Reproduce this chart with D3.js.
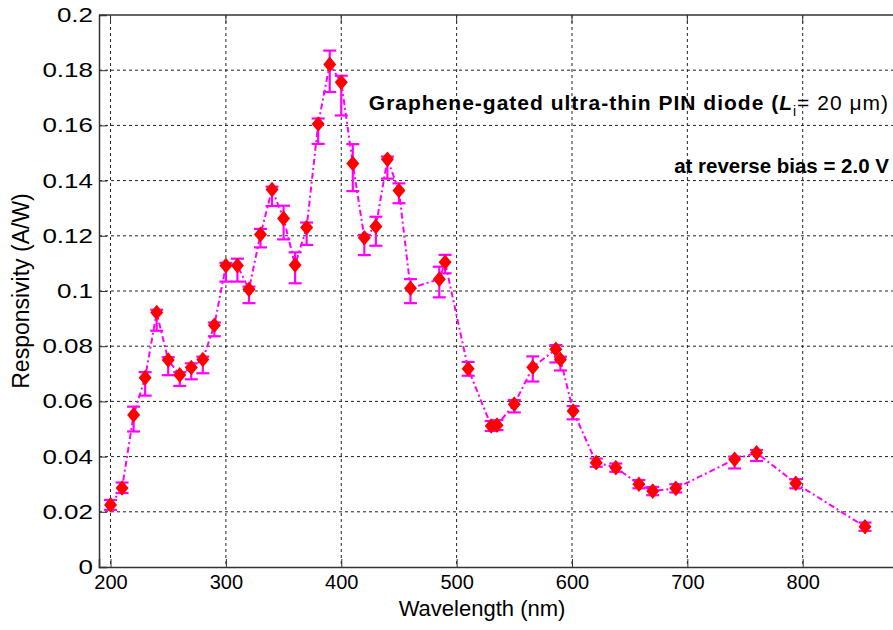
<!DOCTYPE html>
<html>
<head>
<meta charset="utf-8">
<script src="https://cdn.jsdelivr.net/npm/d3@7"></script>
<style>
  body { margin: 0; background: #fff; }
  svg { display: block; font-family: Arial, "Liberation Sans", sans-serif; }
  .grid line { stroke: #222; stroke-width: 1; stroke-dasharray: 3,3; }
  .axis text { fill: #000; }
  .x-axis text { font-size: 20px; }
  .y-axis text { font-size: 20px; }
  .note { font-size: 20.5px; font-weight: bold; fill: #000; }
</style>
</head>
<body>
<div class="chart"></div>
<script>
// DATA ------------------------------------

const wavelength = [200, 210, 220, 230, 240, 250, 260, 270, 280, 290,
  300, 310, 320, 330, 340, 350, 360, 370, 380, 390,
  400, 410, 420, 430, 440, 450, 460, 485, 490, 510,
  530, 535, 550, 566, 586, 590, 601, 621, 638, 658,
  670, 690, 741, 760, 794, 854];

const responsivity = [0.0225, 0.0286, 0.0551, 0.0686, 0.0922, 0.0750, 0.0696, 0.0723, 0.0752, 0.0876,
  0.1092, 0.1092, 0.1006, 0.1205, 0.1368, 0.1263, 0.1094, 0.1230, 0.1605, 0.1821,
  0.1756, 0.1462, 0.1193, 0.1234, 0.1477, 0.1364, 0.1010, 0.1043, 0.1104, 0.0718,
  0.0511, 0.0514, 0.0590, 0.0724, 0.0789, 0.0752, 0.0565, 0.0378, 0.0360, 0.0300,
  0.0275, 0.0285, 0.0390, 0.0414, 0.0303, 0.0146];

// error below / above each point (A/W)
const errLow = [0.0018, 0.0018, 0.0060, 0.0065, 0.0066, 0.0055, 0.0040, 0.0043, 0.0050, 0.0040,
  0.0058, 0.0058, 0.0050, 0.0047, 0.0060, 0.0076, 0.0066, 0.0063, 0.0072, 0.0100,
  0.0120, 0.0100, 0.0063, 0.0070, 0.0070, 0.0046, 0.0054, 0.0066, 0.0040, 0.0025,
  0.0018, 0.0018, 0.0030, 0.0052, 0.0048, 0.0040, 0.0030, 0.0015, 0.0015, 0.0015,
  0.0015, 0.0015, 0.0033, 0.0030, 0.0018, 0.0015];

const errHigh = [0.0018, 0.0020, 0.0030, 0.0020, 0.0010, 0.0010, 0.0010, 0.0015, 0.0010, 0.0010,
  0.0010, 0.0025, 0.0010, 0.0020, 0.0010, 0.0046, 0.0046, 0.0018, 0.0020, 0.0050,
  0.0024, 0.0070, 0.0010, 0.0035, 0.0010, 0.0026, 0.0033, 0.0045, 0.0027, 0.0025,
  0.0018, 0.0018, 0.0015, 0.0039, 0.0015, 0.0010, 0.0018, 0.0015, 0.0015, 0.0015,
  0.0015, 0.0015, 0.0010, 0.0010, 0.0015, 0.0015];

const xTicks = [200, 300, 400, 500, 600, 700, 800];
const yTicks = [0, 0.02, 0.04, 0.06, 0.08, 0.1, 0.12, 0.14, 0.16, 0.18, 0.2];

const data = wavelength.map((w, i) => ({
  w: w, r: responsivity[i], lo: errLow[i], hi: errHigh[i]
}));

// CHART INIT ------------------------------

const margin = { top: 15, left: 99, right: -2, bottom: 63 };
const totalWidth = 893;
const totalHeight = 630;
const width = totalWidth - margin.left - margin.right,
  height = totalHeight - margin.top - margin.bottom;

const svg = d3
  .select(".chart")
  .append("svg")
  .attr("width", totalWidth)
  .attr("height", totalHeight)
  .append("g")
  .attr("transform", "translate(" + margin.left + "," + margin.top + ")");

const xScale = d3.scaleLinear().domain([190, 880]).range([0, width]);
const yScale = d3.scaleLinear().domain([0, 0.2]).range([height, 0]);

// grid

svg.append("g").attr("class", "grid")
  .selectAll("line.v")
  .data(xTicks)
  .join("line")
  .attr("x1", (d) => xScale(d)).attr("x2", (d) => xScale(d))
  .attr("y1", 0).attr("y2", height);

svg.append("g").attr("class", "grid")
  .selectAll("line.h")
  .data(yTicks.filter((d) => d > 0 && d < 0.2))
  .join("line")
  .attr("x1", 0).attr("x2", width)
  .attr("y1", (d) => yScale(d)).attr("y2", (d) => yScale(d));

// axes

const xAxis = d3.axisBottom(xScale).tickValues(xTicks).tickSize(-8).tickPadding(15)
  .tickFormat(d3.format("d"));
const yAxis = d3.axisLeft(yScale).tickValues(yTicks).tickSize(-8).tickPadding(6)
  .tickFormat((d) => (d === 0 ? "0" : d3.format(".2~f")(d)));

svg.append("g").attr("class", "axis x-axis")
  .attr("transform", `translate(0, ${height})`)
  .call(xAxis);

svg.append("g").attr("class", "axis y-axis").call(yAxis);

svg.selectAll(".axis path").attr("stroke", "#333").attr("stroke-width", 1.5);
svg.selectAll(".axis line").attr("stroke", "#333");
svg.selectAll(".x-axis text").attr("dy", "0.35em");
// y labels look wider in the original
svg.selectAll(".y-axis .tick text")
  .attr("x", -6 / 1.3)
  .attr("transform", "scale(1.3,1)");

// top border with ticks
svg.append("line")
  .attr("x1", 0).attr("x2", width).attr("y1", 0).attr("y2", 0)
  .attr("stroke", "#333").attr("stroke-width", 1.5);
svg.append("g").selectAll("line")
  .data(xTicks)
  .join("line")
  .attr("x1", (d) => xScale(d)).attr("x2", (d) => xScale(d))
  .attr("y1", 0).attr("y2", 8)
  .attr("stroke", "#333");

// axis titles

svg.append("text")
  .attr("x", 383).attr("y", height + 49)
  .attr("text-anchor", "middle")
  .style("font-size", "22px")
  .text("Wavelength (nm)");

svg.append("text")
  .attr("transform", `translate(-70, ${yScale(0.1)}) rotate(-90)`)
  .attr("text-anchor", "middle")
  .style("font-size", "23px")
  .text("Responsivity (A/W)");

// series line

const line = d3.line().x((d) => xScale(d.w)).y((d) => yScale(d.r));

svg.append("path")
  .datum(data)
  .attr("d", line)
  .attr("fill", "none")
  .attr("stroke", "#ff00ff")
  .attr("stroke-width", 2)
  .attr("stroke-dasharray", "6,3,2,3");

// error bars

const capW = 6.5;
const eb = svg.append("g").attr("stroke", "#ff00ff").attr("stroke-width", 2.2);

eb.selectAll("line.stem").data(data).join("line")
  .attr("x1", (d) => xScale(d.w)).attr("x2", (d) => xScale(d.w))
  .attr("y1", (d) => yScale(d.r - d.lo)).attr("y2", (d) => yScale(d.r + d.hi));

eb.selectAll("line.top").data(data).join("line")
  .attr("x1", (d) => xScale(d.w) - capW).attr("x2", (d) => xScale(d.w) + capW)
  .attr("y1", (d) => yScale(d.r + d.hi)).attr("y2", (d) => yScale(d.r + d.hi));

eb.selectAll("line.bot").data(data).join("line")
  .attr("x1", (d) => xScale(d.w) - capW).attr("x2", (d) => xScale(d.w) + capW)
  .attr("y1", (d) => yScale(d.r - d.lo)).attr("y2", (d) => yScale(d.r - d.lo));

// markers

svg.append("g").selectAll("path").data(data).join("path")
  .attr("d", "M0,-7.8L6.5,0L0,7.8L-6.5,0Z")
  .attr("transform", (d) => `translate(${xScale(d.w)},${yScale(d.r)})`)
  .attr("fill", "#ff0000");

// annotation

const note1 = svg.append("text")
  .attr("class", "note")
  .attr("x", 790).attr("y", 95)
  .attr("text-anchor", "end")
  .style("font-size", "21px")
  .style("letter-spacing", "1px");
note1.append("tspan").text("Graphene-gated ultra-thin PIN diode (");
note1.append("tspan").style("font-style", "italic").text("L");
note1.append("tspan").attr("dy", 6).style("font-size", "14px").style("font-weight", "normal").text("i");
note1.append("tspan").attr("dy", -6).style("font-weight", "normal").text("= 20 μm)");

svg.append("text")
  .attr("class", "note")
  .attr("x", 790).attr("y", 158)
  .attr("text-anchor", "end")
  .text("at reverse bias = 2.0 V");
</script>
</body>
</html>
